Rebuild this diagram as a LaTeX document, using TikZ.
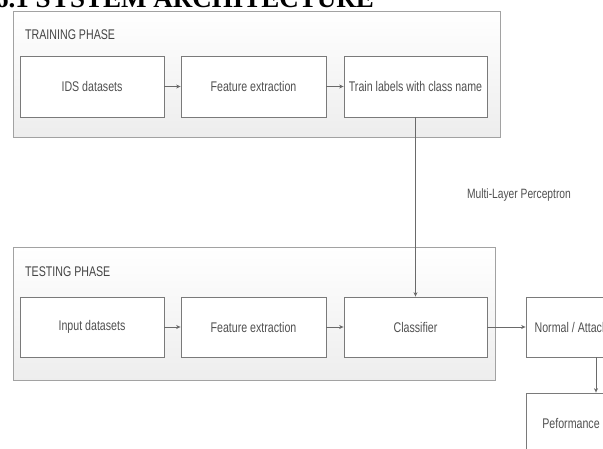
\documentclass[tikz,border=0pt]{standalone}
\usepackage{fontspec}
\setmainfont{Liberation Sans}
\newfontfamily\narrowfont[FakeStretch=0.76]{Liberation Sans}
\newfontfamily\titlefont{Liberation Serif}
\usetikzlibrary{arrows.meta}
\definecolor{txtgray}{HTML}{505050}
\definecolor{linegray}{HTML}{6A6A6A}
\definecolor{boxedge}{HTML}{7A7A7A}
\tikzset{
  phasebox/.style={draw=boxedge!70, line width=0.9pt, top color=white, bottom color=gray!14, inner sep=0pt},
  stepbox/.style={draw=boxedge, line width=0.8pt, fill=white, minimum height=61pt, inner sep=0pt,
    font=\narrowfont\fontsize{14}{16}\selectfont, text=txtgray},
  phasetitle/.style={anchor=west, inner sep=0pt, font=\narrowfont\fontsize{14}{16}\selectfont, text=txtgray!85!black},
  arr/.style={draw=linegray, line width=0.7pt, -{Stealth[length=4.5pt,width=4pt]}},
  lbl/.style={inner sep=0pt, font=\narrowfont\fontsize{13.5}{15}\selectfont, text=txtgray}
}
\begin{document}
\begin{tikzpicture}[x=1pt,y=-1pt]
\useasboundingbox (0,0) rectangle (603,448);
\clip (0,0) rectangle (603,448);
\fill[white] (0,0) rectangle (603,448);
% title (clipped at the top)
\node[anchor=base west, inner sep=0pt, font=\titlefont\bfseries\fontsize{27}{29}\selectfont] (title) at (-5,7) {6.1 SYSTEM ARCHITECTURE};
% phase boxes
\node[phasebox, minimum width=487pt, minimum height=126pt] (train) at (256.5,74) {};
\node[phasebox, minimum width=482pt, minimum height=133pt] (test) at (254,313.5) {};
\node[phasetitle] (traintitle) at (25,35) {TRAINING PHASE};
\node[phasetitle] (testtitle) at (25,272) {TESTING PHASE};
% training row
\node[stepbox, minimum width=144pt] (ids) at (92,86.5) {IDS datasets};
\node[stepbox, minimum width=145pt] (fe1) at (253.5,86.5) {Feature extraction};
\node[stepbox, minimum width=143pt] (tl) at (415.5,86.5) {Train labels with class name};
% testing row
\node[stepbox, minimum width=144pt, minimum height=60pt] (inp) at (92,327) {Input datasets};
\node[stepbox, minimum width=145pt, minimum height=60pt] (fe2) at (253.5,327) {Feature extraction};
\node[stepbox, minimum width=143pt, minimum height=60pt] (cl) at (415.5,327) {Classifier};
\node[stepbox, minimum width=90pt, minimum height=60pt] (na) at (571,327) {Normal / Attack};
\node[stepbox, minimum width=90pt, minimum height=60pt] (pf) at (571,423) {Peformance};
% label
\node[lbl] (mlp) at (519,195) {Multi-Layer Perceptron};
% connectors
\draw[arr] (ids) -- (fe1);
\draw[arr] (fe1) -- (tl);
\draw[arr] (tl.south) -- (cl.north);
\draw[arr] (inp) -- (fe2);
\draw[arr] (fe2) -- (cl);
\draw[arr] (cl) -- (na);
\draw[arr] ([xshift=25pt]na.south) -- ([xshift=25pt]pf.north);
\end{tikzpicture}
\end{document}
